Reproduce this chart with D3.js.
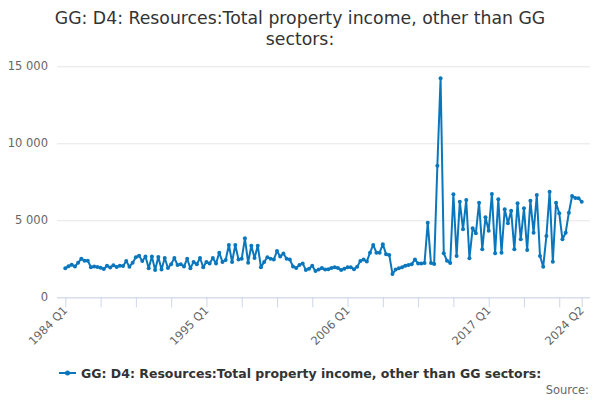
<!DOCTYPE html>
<html><head><meta charset="utf-8">
<script src="https://cdn.jsdelivr.net/npm/d3@7"></script>
<style>
html,body{margin:0;padding:0;background:#fff;}
svg{display:block;font-family:"DejaVu Sans",sans-serif;}
</style></head>
<body>
<svg id="chart" width="600" height="400"></svg>
<script>
const titleLines = ["GG: D4: Resources:Total property income, other than GG", "sectors:"];
const seriesName = "GG: D4: Resources:Total property income, other than GG sectors:";
const startYear = 1984;
const values = [
 1880,2020,2120,2000, 2250,2500,2380,2380, 1950,2000,1960,1920, 1840,2050,1930,2080,
 1970,2050,2030,2350, 1990,2250,2600,2700, 2350,2650,1880,2650, 1780,2620,1800,2550,
 1900,2150,2550,2100, 2150,2000,2500,1880, 2300,2150,2550,1950, 2300,2200,2550,2200,
 2900,2300,2420,3400, 2300,3400,2450,2500, 3830,2250,3350,2550, 3350,1950,2300,2600,
 2500,2450,3000,2650, 2850,2500,2450,2000, 1900,2100,2200,1780, 1850,2050,1700,1800,
 1900,1800,1820,1900, 1950,1900,1780,1850, 1950,1950,1820,1990, 2350,2450,2320,2900,
 3400,2900,2900,3450, 2800,2750,1520,1800, 1880,1950,2050,2100, 2150,2450,2200,2200,
 2230,4845,2230,2160, 8545,14220,2857,2377, 2230,6689,2682,6209, 4416,6319,2532,4480,
 4156,6144,3117,5195, 4325,6708,2857,6364, 2896,5715,4805,5624, 3117,6104,3766,5780,
 3072,6273,4195,6643, 2682,1987,3981,6858, 2312,6144,5455,3766, 4195,5494,6578,6450,
 6429,6209
];
const categories = values.map((v, i) => (startYear + Math.floor(i / 4)) + " Q" + (i % 4 + 1));
const yTicks = [0, 5000, 10000, 15000];
const xTickIdx = [0,11,22,33,44,55,66,77,88,99,110,121,132,143,154,161];
const xLabelNames = ["1984 Q1","1995 Q1","2006 Q1","2017 Q1","2024 Q2"];

const svg = d3.select("#chart");
const color = "#0a77bd";
const x = d3.scaleLinear().domain([0, values.length - 1]).range([65.3, 581.7]);
const y = d3.scaleLinear().domain([0, 15000]).range([297.3, 66.3]);

// title
svg.append("text").attr("x", 300).attr("y", 24).attr("text-anchor", "middle")
  .attr("fill", "#333").style("font-size", "17.3px")
  .selectAll("tspan").data(titleLines).join("tspan")
  .attr("x", 300).attr("dy", (d, i) => i ? 21 : 0).text(d => d);

// grid + y labels
const yAxis = d3.axisLeft(y).tickValues(yTicks).tickSize(0)
  .tickFormat(d => d3.format(",")(d).replace(/,/g, " "));
const gy = svg.append("g").attr("transform", "translate(57,0)").call(yAxis);
gy.select(".domain").remove();
gy.selectAll(".tick line").attr("stroke", "#e6e6e6").attr("x1", 0).attr("x2", 590 - 57);
gy.selectAll(".tick text").attr("x", -9).attr("fill", "#666").style("font-size", "11.5px")
  .style("font-family", "DejaVu Sans, sans-serif");

// x axis
const xAxis = d3.axisBottom(x).tickValues(xTickIdx).tickSize(10).tickFormat("");
const gx = svg.append("g").attr("transform", "translate(0,297.3)").call(xAxis);
gx.select(".domain").attr("stroke", "#ccd6eb").attr("d", "M57,0.5H590");
gx.selectAll(".tick line").attr("stroke", "#ccd6eb");
const labelIdx = xLabelNames.map(n => categories.indexOf(n));
svg.append("g").selectAll("text").data(labelIdx).join("text")
  .attr("transform", d => `translate(${x(d) + 3},${311}) rotate(-45)`)
  .attr("text-anchor", "end").attr("fill", "#666").style("font-size", "11.5px")
  .text(d => categories[d]);

// line
const line = d3.line().x((d, i) => x(i)).y(d => y(d));
svg.append("path").datum(values).attr("d", line).attr("fill", "none")
  .attr("stroke", color).attr("stroke-width", 2).attr("stroke-linejoin", "round");
svg.append("g").selectAll("circle").data(values).join("circle")
  .attr("cx", (d, i) => x(i)).attr("cy", d => y(d)).attr("r", 2).attr("fill", color);

// legend
const lg = svg.append("g");
lg.append("line").attr("x1", 59).attr("x2", 76).attr("y1", 373).attr("y2", 373)
  .attr("stroke", color).attr("stroke-width", 2);
lg.append("circle").attr("cx", 67.5).attr("cy", 373).attr("r", 2.5).attr("fill", color);
lg.append("text").attr("x", 81).attr("y", 377.5).attr("fill", "#333")
  .style("font-size", "12.5px").style("font-weight", "bold").text(seriesName);

// source
svg.append("text").attr("x", 589).attr("y", 394).attr("text-anchor", "end")
  .attr("fill", "#666").style("font-size", "11.5px").text("Source:");
</script>
</body></html>
